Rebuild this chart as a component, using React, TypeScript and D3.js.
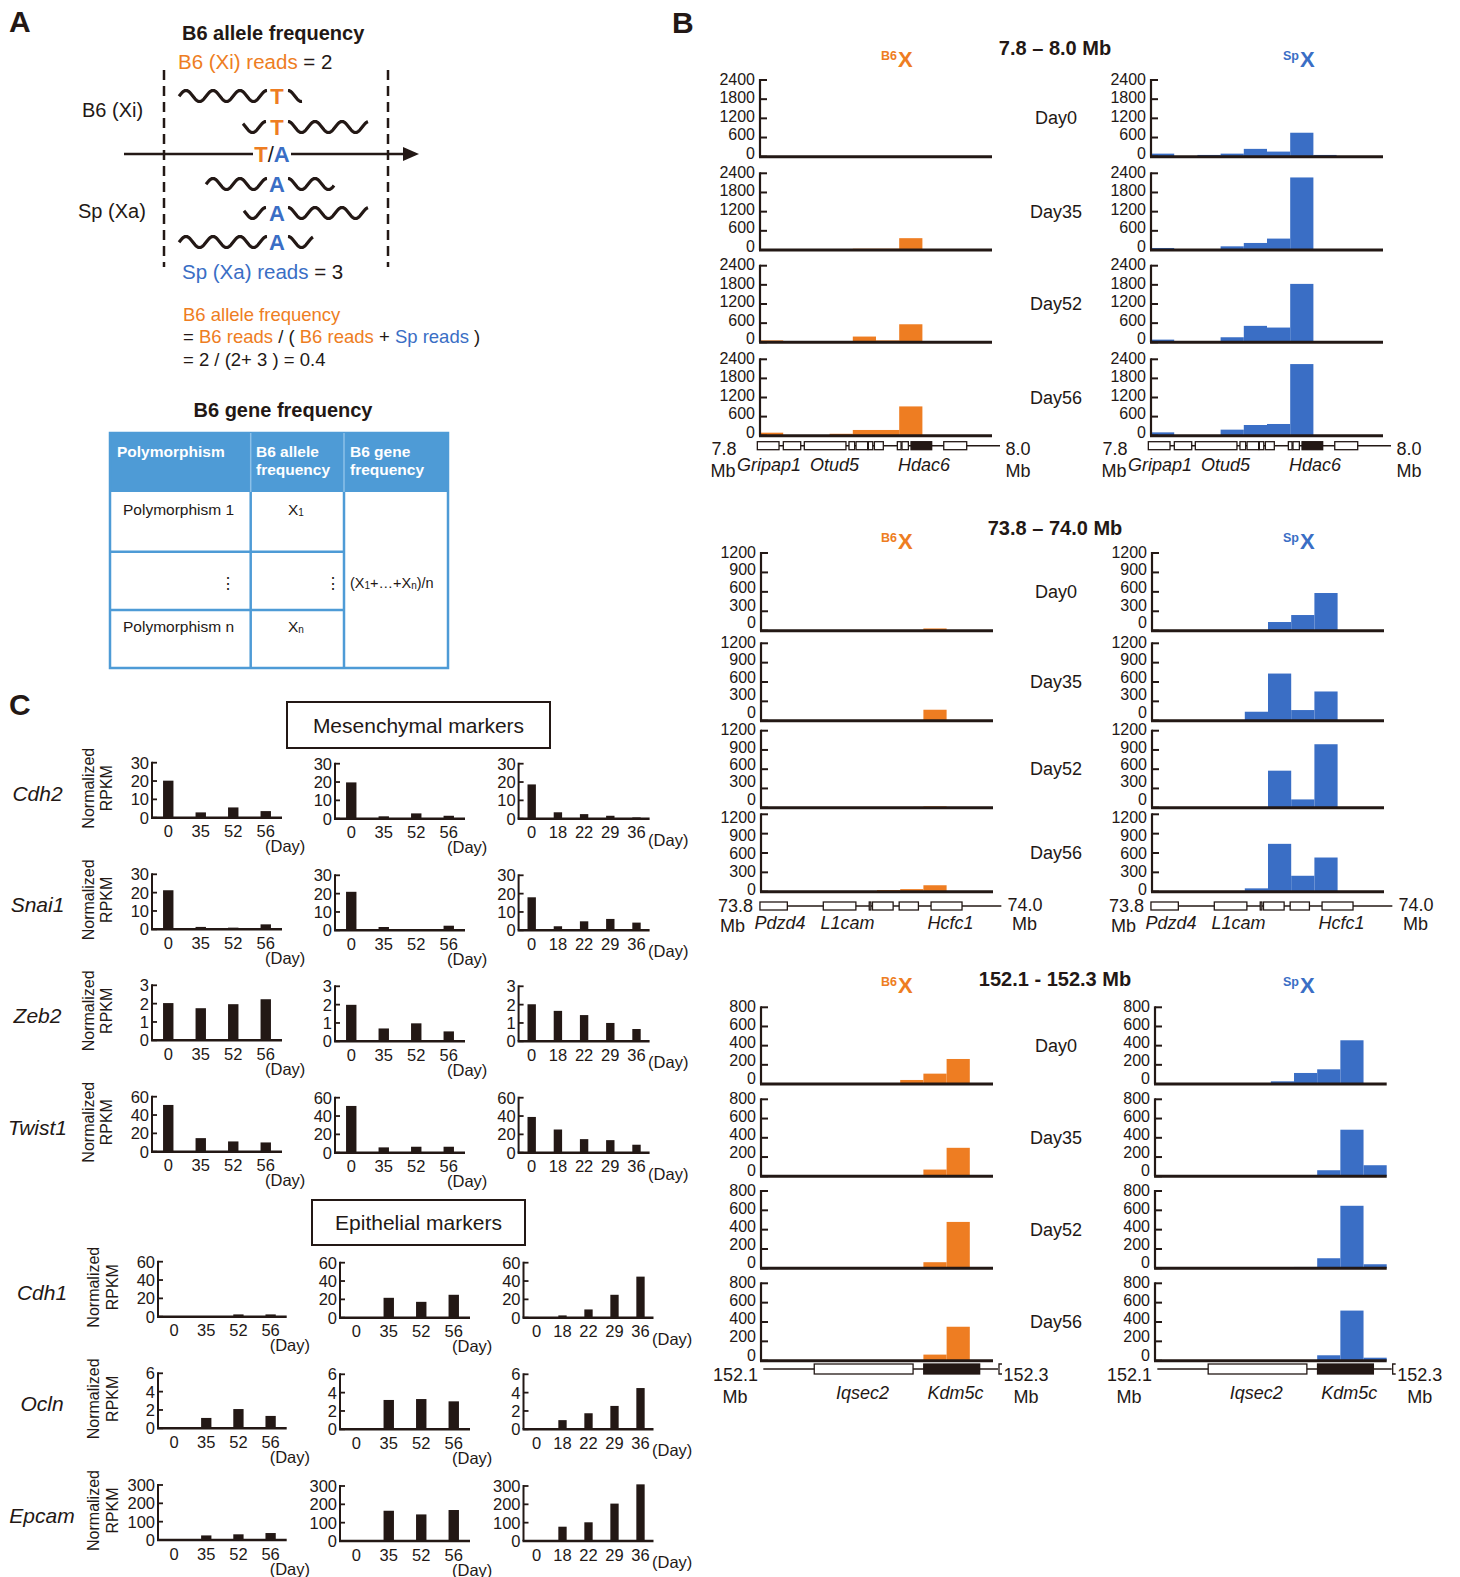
import React from 'react';
import * as d3 from 'd3';

const INK = '#231815';
const ORANGE = '#EE7D22';
const BLUE = '#3A6EC5';
const TBLUE = '#4E9BD6';
const FONT = "'Liberation Sans', Arial, Helvetica, sans-serif";

// ---------------- Panel B data ----------------
const dayNames = ['Day0', 'Day35', 'Day52', 'Day56'];
const regionTitles = ['7.8 – 8.0 Mb', '73.8 – 74.0 Mb', '152.1 - 152.3 Mb'];
const regionStart = [7.8, 73.8, 152.1];
const regionEnd = [8.0, 74.0, 152.3];
const regionStartLabel = ['7.8', '73.8', '152.1'];
const regionEndLabel = ['8.0', '74.0', '152.3'];
const regionYMax = [2400, 1200, 800];
const regionTicks = [
  [0, 600, 1200, 1800, 2400],
  [0, 300, 600, 900, 1200],
  [0, 200, 400, 600, 800],
];

// 10 bins of 0.02 Mb per region; rows = Day0, Day35, Day52, Day56
const r1B6 = [
  [0, 0, 20, 0, 0, 0, 0, 0, 0, 0],
  [0, 0, 0, 0, 40, 40, 370, 0, 0, 0],
  [60, 0, 0, 30, 180, 60, 565, 0, 0, 0],
  [95, 0, 0, 60, 180, 180, 920, 0, 0, 0],
];
const r1Sp = [
  [96, 10, 55, 96, 245, 160, 750, 55, 0, 0],
  [63, 0, 0, 115, 220, 357, 2270, 0, 0, 0],
  [84, 0, 0, 158, 515, 462, 1830, 0, 0, 0],
  [105, 0, 0, 190, 336, 368, 2250, 0, 0, 0],
];
const r2B6 = [
  [0, 0, 0, 0, 0, 0, 0, 35, 0, 0],
  [0, 0, 0, 0, 0, 0, 0, 170, 0, 0],
  [0, 0, 0, 0, 0, 0, 12, 20, 0, 0],
  [0, 0, 0, 0, 0, 25, 40, 100, 0, 0],
];
const r2Sp = [
  [0, 0, 0, 0, 0, 134, 242, 582, 0, 0],
  [0, 0, 0, 0, 139, 731, 165, 453, 0, 0],
  [0, 0, 0, 0, 0, 577, 129, 989, 0, 0],
  [0, 0, 0, 0, 52, 742, 247, 530, 0, 0],
];
const r3B6 = [
  [0, 0, 0, 0, 0, 0, 42, 108, 261, 0],
  [0, 0, 0, 0, 0, 0, 0, 70, 296, 0],
  [0, 0, 0, 0, 0, 0, 0, 63, 480, 0],
  [0, 0, 0, 0, 0, 0, 0, 63, 351, 0],
];
const r3Sp = [
  [0, 0, 0, 0, 0, 28, 115, 153, 456, 0],
  [0, 0, 0, 0, 0, 0, 0, 63, 484, 115],
  [0, 0, 0, 0, 0, 0, 14, 104, 647, 42],
  [0, 0, 0, 0, 0, 0, 7, 56, 518, 31],
];

// gene models (Mb)
const r1Line = [7.7977, 8.0069];
const r1Exons = [[7.7977, 7.8164], [7.8201, 7.8351], [7.8382, 7.8741], [7.8767, 7.8816], [7.8828, 7.8928], [7.8934, 7.8972], [7.8986, 7.9063], [7.9184, 7.9216], [7.9224, 7.9279], [7.9302, 7.948], [7.9584, 7.9782]];
const r1Filled = [false, false, false, false, false, false, false, false, false, true, false];
const r1Genes = ['Gripap1', 'Otud5', 'Hdac6'];
const r1GeneAt = [7.8078, 7.8642, 7.9414];

const r2Line = [73.7991, 74.0072];
const r2Exons = [[73.7991, 73.8227], [73.8537, 73.8818], [73.8933, 73.8947], [73.8961, 73.9139], [73.9191, 73.9357], [73.9466, 73.9733]];
const r2Filled = [false, false, false, false, false, false];
const r2Genes = ['Pdzd4', 'L1cam', 'Hcfc1'];
const r2GeneAt = [73.8164, 73.8746, 73.9634];

const r3Line = [152.102, 152.3043];
const r3Exons = [[152.1459, 152.2311], [152.2403, 152.2885]];
const r3Filled = [false, true];
const r3Genes = ['Iqsec2', 'Kdm5c'];
const r3GeneAt = [152.1875, 152.2677];

// ---------------- Panel C data ----------------
const catsA = ['0', '35', '52', '56'];
const catsB = ['0', '18', '22', '29', '36'];
const mesNames = ['Cdh2', 'Snai1', 'Zeb2', 'Twist1'];
const mesMax = [30, 30, 3, 60];
const mesTicks = [[0, 10, 20, 30], [0, 10, 20, 30], [0, 1, 2, 3], [0, 20, 40, 60]];
const cdh2 = [[20.2, 2.9, 5.6, 3.6], [19.8, 1.3, 2.9, 1.6], [18.7, 3.5, 2.5, 1.6, 0.7]];
const snai1 = [[21.3, 1.3, 0.9, 2.7], [21, 1.8, 0.7, 2.5], [18, 2.2, 4.9, 6.2, 4.2]];
const zeb2 = [[2.03, 1.75, 1.97, 2.24], [1.99, 0.7, 0.98, 0.54], [2.02, 1.66, 1.43, 1.0, 0.67]];
const twist1 = [[51, 14.8, 11.2, 10.1], [51, 5.8, 6.5, 6.5], [39, 25.3, 14.8, 13.7, 8.7]];
const epiNames = ['Cdh1', 'Ocln', 'Epcam'];
const epiMax = [60, 6, 300];
const epiTicks = [[0, 20, 40, 60], [0, 2, 4, 6], [0, 100, 200, 300]];
const cdh1 = [[0, 0, 2.5, 2.5], [0, 21.7, 17.3, 25], [0, 2.5, 9, 25, 44.8]];
const ocln = [[0, 1.13, 2.1, 1.35], [0, 3.2, 3.3, 3.05], [0, 1.0, 1.75, 2.55, 4.5]];
const epcam = [[0, 25, 31, 38], [0, 165, 145, 169], [0, 78, 102, 204, 309]];

// ---------------- layout ----------------
const bLayout = [
  { lx: [760, 992], rx: [1151, 1383], tops: [80, 173.3, 265.7, 359.3], bases: [156.7, 250, 342.3, 435.7], lblA: [-1, -1, -1, -1], lblB: [2.5, 2.5, 2.5, 2.5], titleY: 55, tagY: 67, geneY: 445.7, geneH: 8, geneLabelY: 471, numY: [455, 455], mbY: [477, 477], numDx: [-36, 26], mbDx: [-37, 26] },
  { lx: [761, 993], rx: [1152, 1384], tops: [553, 643.3, 730.7, 814.3], bases: [630.7, 720.7, 807.7, 891.7], lblA: [-1, -1, -1, 3], lblB: [7, 7.5, 7.5, 5], titleY: 535, tagY: 549, geneY: 906, geneH: 8, geneLabelY: 929, numY: [911.5, 910.5], mbY: [932, 929.5], numDx: [-25.5, 32], mbDx: [-28.5, 31.5] },
  { lx: [761, 993], rx: [1155, 1386.7], tops: [1007.3, 1099.3, 1191, 1283.3], bases: [1084, 1176.3, 1268.3, 1360.7], lblA: [-1, -1, -1, -1], lblB: [4.5, 4.5, 4.5, 4.5], titleY: 985.5, tagY: 993, geneY: 1369, geneH: 10, geneLabelY: 1399, numY: [1381, 1381], mbY: [1402.5, 1402.5], numDx: [-25.5, 33], mbDx: [-26, 33] },
];

function TrackChart({ x0, x1, top, base, max, ticks, d0, d1, values, color, la, lb }) {
  const x = d3.scaleLinear().domain([d0, d1]).range([x0, x1]);
  const y = d3.scaleLinear().domain([0, max]).range([base, top]);
  const step = (d1 - d0) / values.length;
  return (
    <g>
      {values.map((v, i) =>
        v > 0 ? (
          <rect key={i} x={x(d0 + i * step)} y={y(v)} width={x(d0 + (i + 1) * step) - x(d0 + i * step)} height={base - y(v)} fill={color} />
        ) : null
      )}
      <line x1={x0} x2={x0} y1={top - 1} y2={base} stroke={INK} strokeWidth={2.2} />
      {ticks.map((t) => (
        <g key={t}>
          <line x1={x0} x2={x0 + 7} y1={y(t)} y2={y(t)} stroke={INK} strokeWidth={2} />
          <text x={x0 - 5} y={y(t) + la - lb * (1 - t / max)} textAnchor="end" dominantBaseline="central" fontSize={16} fill={INK}>{t}</text>
        </g>
      ))}
      <line x1={x0 - 1} x2={x1} y1={base} y2={base} stroke={INK} strokeWidth={3} />
    </g>
  );
}

function GeneTrack({ x0, x1, d0, d1, y, h, line, exons, filled, names, at, labelY, bracket }) {
  const x = d3.scaleLinear().domain([d0, d1]).range([x0, x1]);
  const bx = x(line[1]);
  return (
    <g>
      <line x1={x(line[0])} x2={bx} y1={y} y2={y} stroke={INK} strokeWidth={1.5} />
      {exons.map((e, i) => (
        <rect key={i} x={x(e[0])} y={y - h / 2} width={x(e[1]) - x(e[0])} height={h} fill={filled[i] ? INK : '#fff'} stroke={INK} strokeWidth={1.3} />
      ))}
      {bracket ? <path d={`M${bx + 4},${y - 5} H${bx + 1} V${y + 5} H${bx + 4}`} fill="none" stroke={INK} strokeWidth={1.3} /> : null}
      {names.map((n, i) => (
        <text key={n} x={x(at[i])} y={labelY} textAnchor="middle" fontSize={18} fontStyle="italic" fill={INK}>{n}</text>
      ))}
    </g>
  );
}

function PanelB() {
  const b6Sets = [r1B6, r2B6, r3B6];
  const spSets = [r1Sp, r2Sp, r3Sp];
  const lines = [r1Line, r2Line, r3Line];
  const exons = [r1Exons, r2Exons, r3Exons];
  const filled = [r1Filled, r2Filled, r3Filled];
  const genes = [r1Genes, r2Genes, r3Genes];
  const geneAt = [r1GeneAt, r2GeneAt, r3GeneAt];
  return (
    <g>
      <text x={672} y={33} fontSize={30} fontWeight="bold" fill={INK}>B</text>
      {bLayout.map((L, r) => (
        <g key={r}>
          <text x={1055} y={L.titleY} textAnchor="middle" fontSize={20} fontWeight="bold" fill={INK}>{regionTitles[r]}</text>
          <text x={881} y={L.tagY} fill={ORANGE} fontWeight="bold">
            <tspan fontSize={12.5} dy={-7}>B6</tspan>
            <tspan fontSize={22} dy={7} dx={1}>X</tspan>
          </text>
          <text x={1283} y={L.tagY} fill={BLUE} fontWeight="bold">
            <tspan fontSize={12.5} dy={-7}>Sp</tspan>
            <tspan fontSize={22} dy={7} dx={1}>X</tspan>
          </text>
          {dayNames.map((dn, d) => (
            <g key={dn}>
              <TrackChart x0={L.lx[0]} x1={L.lx[1]} top={L.tops[d]} base={L.bases[d]} max={regionYMax[r]} ticks={regionTicks[r]} d0={regionStart[r]} d1={regionEnd[r]} values={b6Sets[r][d]} color={ORANGE} la={L.lblA[d]} lb={L.lblB[d]} />
              <TrackChart x0={L.rx[0]} x1={L.rx[1]} top={L.tops[d]} base={L.bases[d]} max={regionYMax[r]} ticks={regionTicks[r]} d0={regionStart[r]} d1={regionEnd[r]} values={spSets[r][d]} color={BLUE} la={L.lblA[d]} lb={L.lblB[d]} />
              <text x={1056} y={(L.tops[d] + L.bases[d]) / 2} textAnchor="middle" dominantBaseline="central" fontSize={18} fill={INK}>{dn}</text>
            </g>
          ))}
          {[L.lx, L.rx].map((X, s) => (
            <g key={s}>
              <GeneTrack x0={X[0]} x1={X[1]} d0={regionStart[r]} d1={regionEnd[r]} y={L.geneY} h={L.geneH} line={lines[r]} exons={exons[r]} filled={filled[r]} names={genes[r]} at={geneAt[r]} labelY={L.geneLabelY} bracket={r === 2} />
              <text x={X[0] + L.numDx[0]} y={L.numY[0]} textAnchor="middle" fontSize={18} fill={INK}>{regionStartLabel[r]}</text>
              <text x={X[0] + L.mbDx[0]} y={L.mbY[0]} textAnchor="middle" fontSize={18} fill={INK}>Mb</text>
              <text x={X[1] + L.numDx[1]} y={L.numY[1]} textAnchor="middle" fontSize={18} fill={INK}>{regionEndLabel[r]}</text>
              <text x={X[1] + L.mbDx[1]} y={L.mbY[1]} textAnchor="middle" fontSize={18} fill={INK}>Mb</text>
            </g>
          ))}
        </g>
      ))}
    </g>
  );
}

// ---------------- Panel A ----------------
const readRows = [
  { y: 96, base: 'T', left: [179, 267], right: [288, 302] },
  { y: 127, base: 'T', left: [243, 266], right: [288, 368] },
  { y: 184, base: 'A', left: [206, 267], right: [288, 334] },
  { y: 213, base: 'A', left: [244, 266], right: [288, 368] },
  { y: 242, base: 'A', left: [179, 267], right: [288, 313] },
];

function Wave({ x0, x1, yc, anchor }) {
  const pts = d3.range(x0, x1 + 0.01, 0.5).map((x) => [x, yc - 5.5 * Math.cos((2 * Math.PI * (x - anchor)) / 27)]);
  return <path d={d3.line()(pts)} fill="none" stroke={INK} strokeWidth={3.2} />;
}

function PanelA() {
  return (
    <g>
      <text x={9} y={32} fontSize={30} fontWeight="bold" fill={INK}>A</text>
      <text x={182} y={40} fontSize={20} fontWeight="bold" fill={INK}>B6 allele frequency</text>
      <text x={178} y={69} fontSize={20.5} fill={INK}>
        <tspan fill={ORANGE}>B6 (Xi) reads</tspan> = 2
      </text>
      <line x1={164} x2={164} y1={70} y2={267} stroke={INK} strokeWidth={2.5} strokeDasharray="10,6" />
      <line x1={388} x2={388} y1={70} y2={267} stroke={INK} strokeWidth={2.5} strokeDasharray="10,6" />
      <text x={82} y={117} fontSize={20} fill={INK}>B6 (Xi)</text>
      <text x={78} y={218} fontSize={20} fill={INK}>Sp (Xa)</text>
      {readRows.map((r, i) => (
        <g key={i}>
          <Wave x0={r.left[0]} x1={r.left[1]} yc={r.y} anchor={r.left[1]} />
          <Wave x0={r.right[0]} x1={r.right[1]} yc={r.y} anchor={r.right[0]} />
          <text x={277} y={r.y + 8} textAnchor="middle" fontSize={22} fontWeight="bold" fill={r.base === 'T' ? ORANGE : BLUE}>{r.base}</text>
        </g>
      ))}
      <line x1={124} x2={253} y1={154} y2={154} stroke={INK} strokeWidth={2.6} />
      <line x1={291} x2={405} y1={154} y2={154} stroke={INK} strokeWidth={2.6} />
      <path d="M403,147 L419,154 L403,161 Z" fill={INK} />
      <text x={272} y={162} textAnchor="middle" fontSize={22} fontWeight="bold">
        <tspan fill={ORANGE}>T</tspan>
        <tspan fill={INK} fontWeight="normal">/</tspan>
        <tspan fill={BLUE}>A</tspan>
      </text>
      <text x={182} y={279} fontSize={20.5} fill={INK}>
        <tspan fill={BLUE}>Sp (Xa) reads</tspan> = 3
      </text>
      <text x={183} y={321} fontSize={18.5} fill={ORANGE}>B6 allele frequency</text>
      <text x={183} y={343} fontSize={18.5} fill={INK}>
        = <tspan fill={ORANGE}>B6 reads</tspan> / ( <tspan fill={ORANGE}>B6 reads</tspan> + <tspan fill={BLUE}>Sp reads</tspan> )
      </text>
      <text x={183} y={366} fontSize={18.5} fill={INK}>= 2 / (2+ 3 ) = 0.4</text>

      {/* table */}
      <text x={283} y={417} textAnchor="middle" fontSize={20} fontWeight="bold" fill={INK}>B6 gene frequency</text>
      <rect x={110} y={433} width={338} height={59} fill={TBLUE} />
      <rect x={110} y={433} width={338} height={235} fill="none" stroke={TBLUE} strokeWidth={2.5} />
      <line x1={250.7} x2={250.7} y1={433} y2={492} stroke="#8CC0E8" strokeWidth={1.5} />
      <line x1={344} x2={344} y1={433} y2={492} stroke="#8CC0E8" strokeWidth={1.5} />
      <line x1={250.7} x2={250.7} y1={492} y2={668} stroke={TBLUE} strokeWidth={2.5} />
      <line x1={344} x2={344} y1={492} y2={668} stroke={TBLUE} strokeWidth={2.5} />
      <line x1={110} x2={344} y1={551.7} y2={551.7} stroke={TBLUE} strokeWidth={2.5} />
      <line x1={110} x2={344} y1={610} y2={610} stroke={TBLUE} strokeWidth={2.5} />
      <g fill="#fff" fontWeight="bold" fontSize={15.5}>
        <text x={117} y={457}>Polymorphism</text>
        <text x={256} y={457}>B6 allele</text>
        <text x={256} y={475}>frequency</text>
        <text x={350} y={457}>B6 gene</text>
        <text x={350} y={475}>frequency</text>
      </g>
      <g fill={INK} fontSize={15.5}>
        <text x={123} y={515}>Polymorphism 1</text>
        <text x={288} y={515}>X<tspan fontSize={10} dy={1}>1</tspan></text>
        <text x={228} y={583} textAnchor="middle" dominantBaseline="central">⋮</text>
        <text x={333} y={583} textAnchor="middle" dominantBaseline="central">⋮</text>
        <text x={350} y={588} fontSize={14.5}>(X<tspan fontSize={10} dy={1}>1</tspan><tspan dy={-1}>+…+X</tspan><tspan fontSize={10} dy={1}>n</tspan><tspan dy={-1}>)/n</tspan></text>
        <text x={123} y={632}>Polymorphism n</text>
        <text x={288} y={632}>X<tspan fontSize={10} dy={1}>n</tspan></text>
      </g>
    </g>
  );
}

// ---------------- Panel C ----------------
function MiniBar({ x0, x1, top, base, max, ticks, cats, values, dayDx, dayDy }) {
  const x = d3.scaleBand().domain(cats).range([x0, x1]).paddingInner(0.68).paddingOuter(0.34);
  const y = d3.scaleLinear().domain([0, max]).range([base, top]);
  return (
    <g>
      {cats.map((c, i) =>
        values[i] > 0 ? <rect key={c} x={x(c)} y={y(values[i])} width={x.bandwidth()} height={base - y(values[i])} fill={INK} /> : null
      )}
      <line x1={x0} x2={x0} y1={top - 1} y2={base} stroke={INK} strokeWidth={2} />
      {ticks.map((t) => (
        <g key={t}>
          <line x1={x0} x2={x0 + 5} y1={y(t)} y2={y(t)} stroke={INK} strokeWidth={1.8} />
          <text x={x0 - 3} y={y(t)} textAnchor="end" dominantBaseline="central" fontSize={16.5} fill={INK}>{t}</text>
        </g>
      ))}
      <line x1={x0 - 1} x2={x1} y1={base} y2={base} stroke={INK} strokeWidth={2.6} />
      {cats.map((c) => (
        <text key={c} x={x(c) + x.bandwidth() / 2} y={base + 19.5} textAnchor="middle" fontSize={16.5} fill={INK}>{c}</text>
      ))}
      <text x={x1 + dayDx} y={base + dayDy} fontSize={16.5} fill={INK}>(Day)</text>
    </g>
  );
}

const mesTops = [762.7, 874.3, 985.3, 1096.7];
const epiTops = [1261.7, 1373.3, 1485];
const mesCols = [[152, 282], [335, 465], [518.6, 649.6]];
const epiCols = [[158, 286.7], [340, 470], [523.5, 653.5]];
const colDay = [[-17, 34.5], [-18, 34.5], [-1.5, 27]];

function PanelC() {
  const mesVals = [cdh2, snai1, zeb2, twist1];
  const epiVals = [cdh1, ocln, epcam];
  const H = 55;
  const group = (names, maxes, tickSets, vals, tops, cols, nameX, normX) =>
    names.map((nm, r) => {
      const top = tops[r];
      const base = top + H;
      const mid = (top + base) / 2;
      return (
        <g key={nm}>
          <text x={nameX} y={mid + 3} textAnchor="middle" dominantBaseline="central" fontSize={21} fontStyle="italic" fill={INK}>{nm}</text>
          <text transform={`translate(${normX[0]},${mid - 2}) rotate(-90)`} textAnchor="middle" dominantBaseline="central" fontSize={16} fill={INK}>Normalized</text>
          <text transform={`translate(${normX[1]},${mid - 2}) rotate(-90)`} textAnchor="middle" dominantBaseline="central" fontSize={16} fill={INK}>RPKM</text>
          {cols.map((c, k) => (
            <MiniBar key={k} x0={c[0]} x1={c[1]} top={top + (k > 0 ? 1 : 0)} base={base + (k > 0 ? 1 : 0)} max={maxes[r]} ticks={tickSets[r]} cats={k === 2 ? catsB : catsA} values={vals[r][k]} dayDx={colDay[k][0]} dayDy={colDay[k][1]} />
          ))}
        </g>
      );
    });
  return (
    <g>
      <text x={9} y={715} fontSize={30} fontWeight="bold" fill={INK}>C</text>
      <rect x={287} y={702} width={263} height={46} fill="#fff" stroke={INK} strokeWidth={2} />
      <text x={418.5} y={725} textAnchor="middle" dominantBaseline="central" fontSize={21} fill={INK}>Mesenchymal markers</text>
      <rect x={312} y={1200} width={213} height={45} fill="#fff" stroke={INK} strokeWidth={2} />
      <text x={418.5} y={1222.5} textAnchor="middle" dominantBaseline="central" fontSize={21} fill={INK}>Epithelial markers</text>
      {group(mesNames, mesMax, mesTicks, mesVals, mesTops, mesCols, 37.5, [88.5, 106])}
      {group(epiNames, epiMax, epiTicks, epiVals, epiTops, epiCols, 42, [93, 112])}
    </g>
  );
}

export default function App() {
  return (
    <svg width={1460} height={1577} style={{ position: 'absolute', left: 0, top: 0, background: '#fff', display: 'block' }} fontFamily={FONT}>
      <rect x={0} y={0} width={1460} height={1577} fill="#fff" />
      <PanelA />
      <PanelB />
      <PanelC />
    </svg>
  );
}
